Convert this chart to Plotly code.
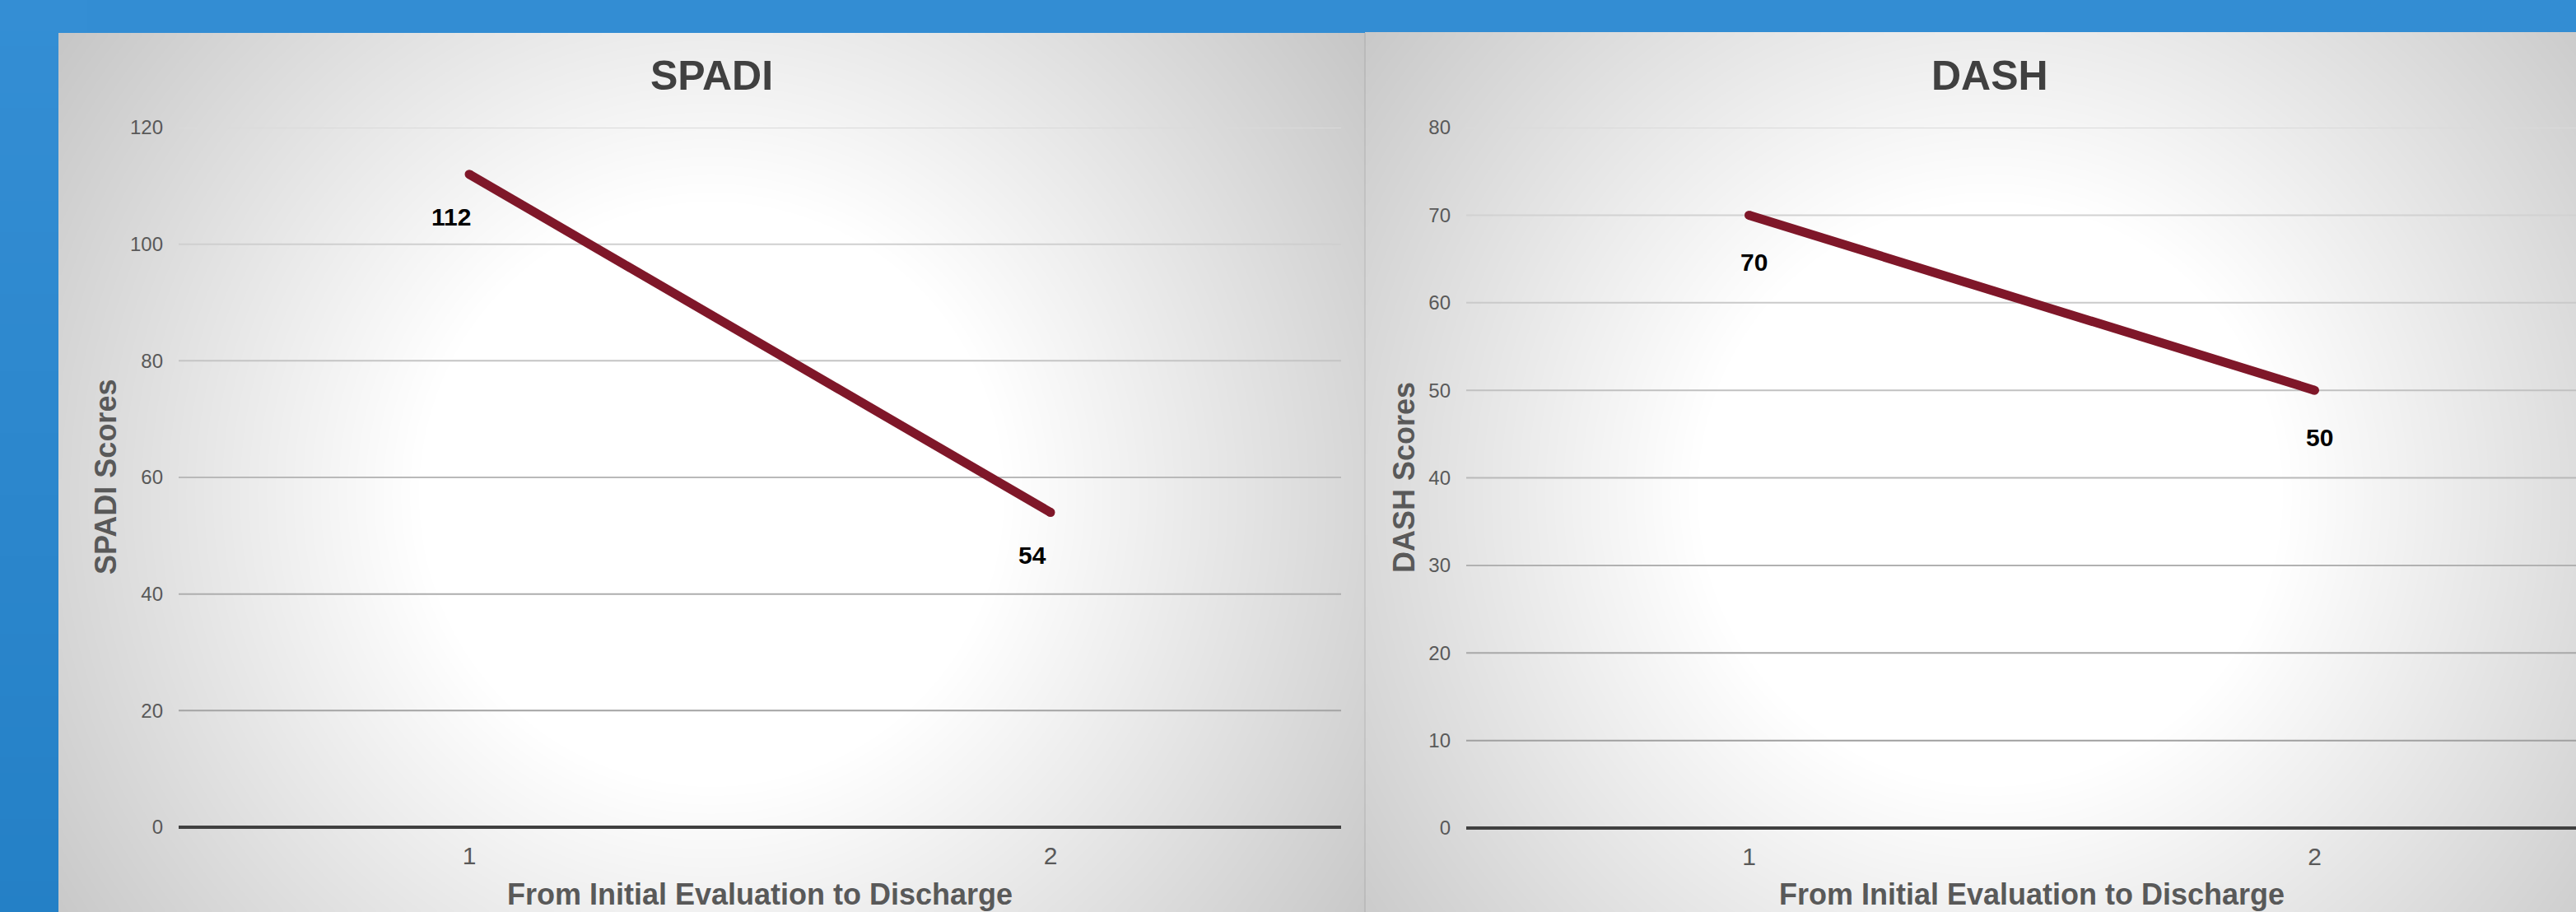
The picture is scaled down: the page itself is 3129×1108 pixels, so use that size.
import numpy as np
import plotly.graph_objects as go

# ---------------- data ----------------
stages = [1, 2]
stage_labels = ["1", "2"]
spadi_scores = [112, 54]
dash_scores = [70, 50]
spadi_ticks = [0, 20, 40, 60, 80, 100, 120]
dash_ticks = [0, 10, 20, 30, 40, 50, 60, 70, 80]
titles = ["SPADI", "DASH"]
y_titles = ["SPADI Scores", "DASH Scores"]
x_title = "From Initial Evaluation to Discharge"

# ---------------- geometry / style ----------------
W, H = 3129, 1108
FONT = "Liberation Sans, Arial, sans-serif"
LINE_COLOR = "#7f1729"
AXIS_TXT = "#595959"
TITLE_TXT = "#404040"


def px(x):
    return x / W


def py(y):
    return 1 - y / H


fig = go.Figure()

# ----- background: blue strip gradient + radial gray panels (subplot x/y) -----
ys_strip = np.linspace(0, H, 60)
fig.add_trace(go.Heatmap(
    x=[0, 71], y=ys_strip, z=[[v, v] for v in ys_strip[:-1]],
    colorscale=[[0, "#348ed4"], [1, "#2480c6"]], zmin=0, zmax=H,
    showscale=False, hoverinfo="skip", xaxis="x", yaxis="y"))


def panel(x0, x1, y0, y1, cx, cy, step=6):
    xe = np.arange(x0, x1 + step, step, dtype=float)
    ye = np.arange(y0, y1 + step, step, dtype=float)
    xc = (xe[:-1] + xe[1:]) / 2
    yc = (ye[:-1] + ye[1:]) / 2
    X, Y = np.meshgrid(xc, yc)
    r = np.hypot(X - cx, Y - cy)
    g = np.clip(255 - 0.092 * np.clip(r - 350, 0, None), 190, 255)
    fig.add_trace(go.Heatmap(
        x=xe, y=ye, z=g, colorscale=[[0, "rgb(0,0,0)"], [1, "rgb(255,255,255)"]],
        zmin=0, zmax=255, zsmooth="best", showscale=False, hoverinfo="skip",
        xaxis="x", yaxis="y"))


panel(71, 1658, 40, H, 864, 600)
panel(1658, W, 39, H, 2417, 600)

fig.update_layout(
    xaxis=dict(domain=[0, 1], range=[0, W], visible=False, fixedrange=True),
    yaxis=dict(domain=[0, 1], range=[H, 0], visible=False, fixedrange=True),
)

# ----- chart definitions -----
charts = [
    dict(vals=spadi_scores, ticks=spadi_ticks, xa="x2", ya="y2",
         xdom=[px(217), px(1629)], ydom=[py(1005), py(155)],
         xrange=[0.5, 2.5], title_x=864, ytitle_x=128, xtitle_x=923,
         lab_dx=-22, lab_dy=-52),
    dict(vals=dash_scores, ticks=dash_ticks, xa="x3", ya="y3",
         xdom=[px(1781), 1.0], ydom=[py(1006), py(155)],
         xrange=[0.5, 0.5 + (W - 1781) / 687.0], title_x=2417, ytitle_x=1705,
         xtitle_x=2468, lab_dx=6, lab_dy=-57),
]

annotations = []
for i, c in enumerate(charts):
    ymax = c["ticks"][-1]
    # gridlines (darker towards bottom)
    for v in c["ticks"][1:]:
        frac = v / ymax
        g = int(round(152 + 66 * frac))
        fig.add_trace(go.Scatter(
            x=[0.5, 2.5], y=[v, v], mode="lines",
            line=dict(color=f"rgb({g},{g},{g})", width=2),
            hoverinfo="skip", showlegend=False, xaxis=c["xa"], yaxis=c["ya"]))
    # data line
    fig.add_trace(go.Scatter(
        x=stages, y=c["vals"], mode="lines+markers",
        line=dict(color=LINE_COLOR, width=11),
        marker=dict(color=LINE_COLOR, size=11),
        showlegend=False, xaxis=c["xa"], yaxis=c["ya"]))
    for xv, yv in zip(stages, c["vals"]):
        annotations.append(dict(
            x=xv, y=yv, xref=c["xa"], yref=c["ya"], text=f"<b>{yv}</b>",
            showarrow=False, xshift=c["lab_dx"], yshift=c["lab_dy"],
            xanchor="center", yanchor="middle",
            font=dict(family=FONT, size=30, color="#000000")))
    # titles
    annotations.append(dict(
        x=px(c["title_x"]), y=py(92), xref="paper", yref="paper",
        text=f"<b>{titles[i]}</b>", showarrow=False, xanchor="center",
        yanchor="middle", font=dict(family=FONT, size=50, color=TITLE_TXT)))
    annotations.append(dict(
        x=px(c["ytitle_x"]), y=py(580), xref="paper", yref="paper",
        text=f"<b>{y_titles[i]}</b>", showarrow=False, textangle=-90,
        xanchor="center", yanchor="middle",
        font=dict(family=FONT, size=36, color=AXIS_TXT)))
    annotations.append(dict(
        x=px(c["xtitle_x"]), y=py(1086), xref="paper", yref="paper",
        text=f"<b>{x_title}</b>", showarrow=False, xanchor="center",
        yanchor="middle", font=dict(family=FONT, size=36, color=AXIS_TXT)))

    xkey = "xaxis" + c["xa"][1:]
    ykey = "yaxis" + c["ya"][1:]
    fig.update_layout(**{
        xkey: dict(domain=c["xdom"], range=c["xrange"], tickvals=stages,
                   ticktext=stage_labels, showgrid=False, zeroline=False,
                   showline=False, ticks="", ticklabelstandoff=14,
                   tickfont=dict(family=FONT, size=30, color=AXIS_TXT),
                   anchor=c["ya"], fixedrange=True, automargin=False),
        ykey: dict(domain=c["ydom"], range=[0, ymax], tickvals=c["ticks"],
                   showgrid=False, zeroline=True, zerolinecolor="#404040",
                   zerolinewidth=4, showline=False, ticks="",
                   ticklabelstandoff=18,
                   tickfont=dict(family=FONT, size=24, color=AXIS_TXT),
                   anchor=c["xa"], fixedrange=True, automargin=False),
    })

fig.update_layout(
    width=W, height=H,
    margin=dict(l=0, r=0, t=0, b=0, pad=0, autoexpand=False),
    paper_bgcolor="#338dd3", plot_bgcolor="rgba(0,0,0,0)",
    showlegend=False, annotations=annotations,
    shapes=[dict(type="line", xref="paper", yref="paper",
                 x0=px(1658), x1=px(1658), y0=0, y1=py(40),
                 line=dict(color="rgba(0,0,0,0.07)", width=2))],
)

fig.write_html("out.html")
